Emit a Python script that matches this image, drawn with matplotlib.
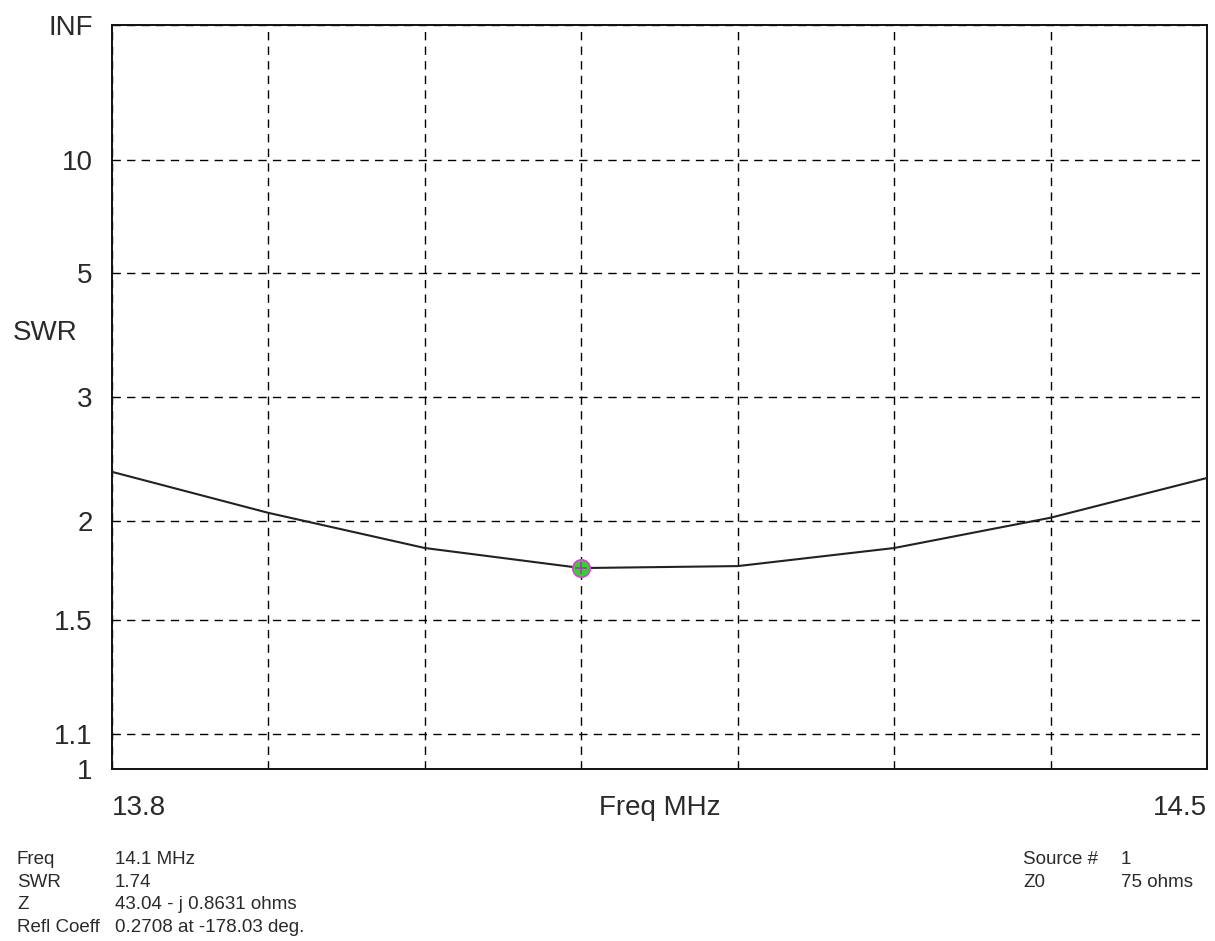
import numpy as np
import matplotlib.pyplot as plt

# SWR sweep
freq = [13.8, 13.9, 14.0, 14.1, 14.2, 14.3, 14.4, 14.5]
swr = [2.33, 2.05, 1.845, 1.74, 1.75, 1.845, 2.02, 2.285]

cursor_freq = 14.1
cursor_swr = 1.74

swr_ticks = [1, 1.1, 1.5, 2, 3, 5, 10, 1e9]
swr_labels = ['1', '1.1', '1.5', '2', '3', '5', '10', 'INF']
freq_grid = [13.8, 13.9, 14.0, 14.1, 14.2, 14.3, 14.4, 14.5]

info_left = [('Freq', '14.1 MHz'),
             ('SWR', '1.74'),
             ('Z', '43.04 - j 0.8631 ohms'),
             ('Refl Coeff', '0.2708 at -178.03 deg.')]
info_right = [('Source #', '1'), ('Z0', '75 ohms')]

plt.rcParams['font.family'] = ['Liberation Sans', 'DejaVu Sans']
txt = '#2a2a2a'


def to_rho(s):
    # SWR axis is linear in reflection coefficient magnitude
    s = np.asarray(s, dtype=float)
    return (s - 1) / (s + 1)


def from_rho(r):
    r = np.clip(np.asarray(r, dtype=float), -0.999999, 1 - 1e-12)
    return (1 + r) / (1 - r)


W, H = 1215, 941
fig = plt.figure(figsize=(W / 100, H / 100), dpi=100)
ax = fig.add_axes([112 / W, 1 - 769 / H, (1207 - 112) / W, (769 - 25) / H])

ax.set_yscale('function', functions=(to_rho, from_rho))
ax.set_ylim(1, 1e9)
ax.set_xlim(13.8, 14.5)

ax.set_yticks(swr_ticks)
ax.set_yticklabels(swr_labels)
ax.set_xticks(freq_grid)
ax.set_xticklabels(['13.8'] + [''] * 6 + ['14.5'])
xl = ax.get_xticklabels()
xl[0].set_ha('left')
xl[-1].set_ha('right')
ax.minorticks_off()

ax.tick_params(length=0, labelsize=20, labelcolor=txt)
ax.tick_params(axis='y', pad=14)
ax.tick_params(axis='x', pad=19)

ax.grid(True, color='black', linewidth=1.0, linestyle=(0, (6, 4.5)))
for sp in ax.spines.values():
    sp.set_linewidth(1.4)
    sp.set_color('#111111')

ax.plot(freq, swr, color='#222222', linewidth=1.5, zorder=3)
ax.plot([cursor_freq], [cursor_swr], 'o', markersize=12.5,
        markerfacecolor='#22dd22', markeredgecolor='#ee33ee',
        markeredgewidth=1.2, zorder=4)
ax.plot([cursor_freq], [cursor_swr], '+', markersize=9, color='#cc22cc',
        markeredgewidth=1.2, zorder=5)

ax.set_xlabel('Freq MHz', fontsize=20, color=txt, labelpad=-19)

fig.text(13 / W, 1 - 333 / H, 'SWR', fontsize=20, color=txt,
         ha='left', va='center')

for i, (k, v) in enumerate(info_left):
    yb = 1 - (864 + i * 22.6) / H
    fig.text(17 / W, yb, k, fontsize=13.5, color=txt, va='baseline')
    fig.text(115 / W, yb, v, fontsize=13.5, color=txt, va='baseline')

for i, (k, v) in enumerate(info_right):
    yb = 1 - (864 + i * 22.6) / H
    fig.text(1023 / W, yb, k, fontsize=13.5, color=txt, va='baseline')
    fig.text(1121 / W, yb, v, fontsize=13.5, color=txt, va='baseline')

fig.savefig('out.png', dpi=100, facecolor='white')
